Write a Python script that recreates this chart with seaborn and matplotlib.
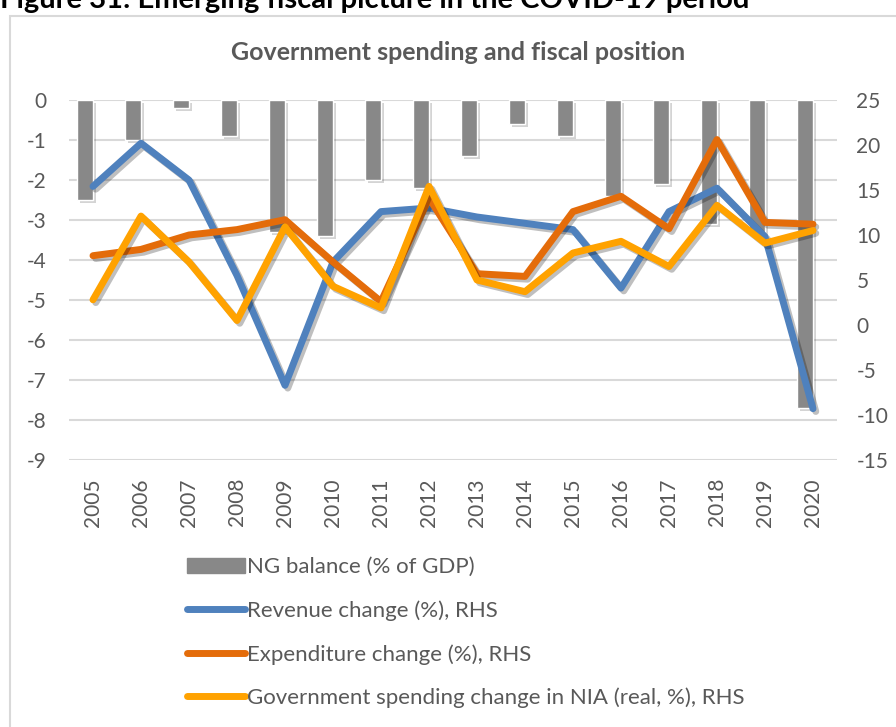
# Government spending and fiscal position (bars on left axis, lines on right axis)

import numpy as np
import pandas as pd
import matplotlib
matplotlib.use("Agg")
import matplotlib.pyplot as plt
import matplotlib.patheffects as pe
from matplotlib.patches import Patch, Rectangle
from matplotlib.lines import Line2D
import seaborn as sns

# ---- data ----
years = [str(y) for y in range(2005, 2021)]
ng_balance = [-2.5, -1.0, -0.2, -0.9, -3.3, -3.4, -2.0, -2.2,
              -1.4, -0.6, -0.9, -2.4, -2.1, -3.1, -3.3, -7.7]
revenue_chg = [15.4, 20.2, 16.1, 5.5, -6.7, 7.0, 12.6, 13.0,
               12.0, 11.3, 10.6, 4.1, 12.6, 15.2, 9.8, -9.3]
expenditure_chg = [7.7, 8.4, 10.0, 10.6, 11.7, 7.0, 2.6, 14.1,
                   5.7, 5.4, 12.6, 14.3, 10.7, 20.6, 11.4, 11.2]
nia_spending_chg = [2.8, 12.1, 7.0, 0.5, 10.9, 4.3, 1.9, 15.4,
                    5.0, 3.7, 8.0, 9.3, 6.5, 13.3, 9.1, 10.5]

left_ticks = list(range(0, -10, -1))
right_ticks = list(range(25, -20, -5))

labels = ["NG balance (% of GDP)",
          "Revenue change (%), RHS",
          "Expenditure change (%), RHS",
          "Government spending change in NIA (real, %), RHS"]
bar_color = "#888888"
line_colors = ["#4f81bd", "#e46c0a", "#ffa200"]
text_color = "#595959"

df = pd.DataFrame({"year": years, "ng": ng_balance})
df["pos"] = np.arange(len(years))
lines_df = pd.DataFrame({
    "pos": df["pos"],
    labels[1]: revenue_chg,
    labels[2]: expenditure_chg,
    labels[3]: nia_spending_chg,
})

sns.set_style("white")
plt.rcParams["font.family"] = ["Lato", "DejaVu Sans"]
plt.rcParams["axes.unicode_minus"] = False

W, H = 896, 727
fig = plt.figure(figsize=(W / 100, H / 100), dpi=100)
ax = fig.add_axes([69 / W, 1 - 460 / H, (837 - 69) / W, 360 / H])
ax2 = ax.twinx()

# chart border (Excel chart area)
fig.patches.append(Rectangle((10 / W, -0.1), 1.2, 1 - 16 / H + 0.1,
                             transform=fig.transFigure, fill=False,
                             edgecolor="#d9d9d9", linewidth=1.5))

# bars (offset to the left half of the category, as in the Excel clustered layout)
sns.barplot(data=df, x="pos", y="ng", color=bar_color, saturation=1,
            width=0.333, ax=ax, zorder=2)
for p in ax.patches:
    p.set_x(p.get_x() - p.get_width() / 2)
    p.set_path_effects([pe.SimplePatchShadow(offset=(2, -2), alpha=0.2), pe.Normal()])

# lines on right axis
for lab, col in zip(labels[1:], line_colors):
    sns.lineplot(data=lines_df, x="pos", y=lab, color=col, lw=5, ax=ax2,
                 solid_capstyle="round", solid_joinstyle="round")
for ln in ax2.lines:
    ln.set_path_effects([pe.SimpleLineShadow(offset=(2, -2), alpha=0.25), pe.Normal()])

ax.set_xlim(-0.5, len(years) - 0.5)
ax.set_ylim(-9, 0)
ax2.set_ylim(-15, 25)
ax.set_yticks(left_ticks)
ax2.set_yticks(right_ticks)
ax.set_xticks(df["pos"])
ax.set_xticklabels(years, rotation=90)

ax.grid(axis="y", color="#d9d9d9", linewidth=1.5, zorder=0)
ax.set_axisbelow(True)
for a in (ax, ax2):
    for s in a.spines.values():
        s.set_visible(False)
    a.set_xlabel("")
    a.set_ylabel("")
ax.tick_params(axis="y", length=0, pad=16, labelsize=15, labelcolor=text_color)
ax.tick_params(axis="x", length=0, pad=13, labelsize=15, labelcolor=text_color)
ax2.tick_params(axis="y", length=0, pad=14, labelsize=15, labelcolor=text_color)
ax2.grid(False)
if ax2.get_legend():
    ax2.get_legend().remove()

# titles
fig.text(0.0, 1 - 0 / H, "Figure 31: Emerging fiscal picture in the COVID-19 period",
         ha="left", va="center", fontsize=21, fontweight="bold", color="black")
fig.text(458 / W, 1 - 52 / H, "Government spending and fiscal position",
         ha="center", va="center", fontsize=18, fontweight="bold", color=text_color)

# legend stacked under the plot
handles = [Patch(facecolor=bar_color, edgecolor=bar_color)]
handles += [Line2D([], [], color=c, lw=5, solid_capstyle="round") for c in line_colors]
fig.legend(handles, labels, loc="upper left", bbox_to_anchor=(176 / W, 1 - 546 / H),
           frameon=False, fontsize=16, labelcolor=text_color, handlelength=2.6,
           handleheight=0.7, handletextpad=0.1, labelspacing=1.04, borderpad=0)

fig.savefig("out.png", dpi=100)
